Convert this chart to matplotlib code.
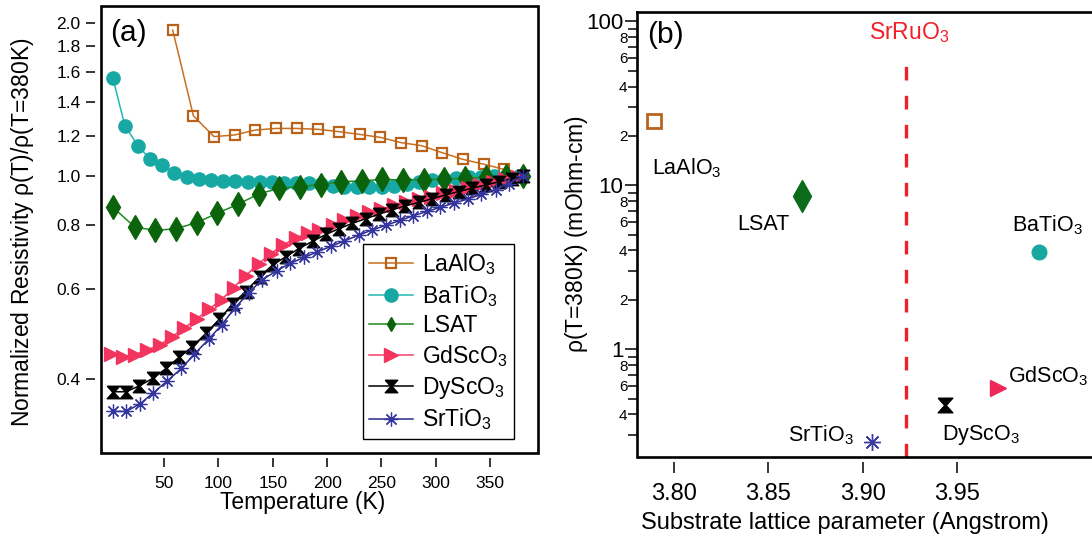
import numpy as np
import matplotlib.pyplot as plt
from matplotlib.patches import Rectangle
from matplotlib.ticker import FixedLocator, FixedFormatter, NullLocator

plt.rcParams['font.family'] = ['Liberation Sans', 'DejaVu Sans']
plt.rcParams['mathtext.default'] = 'regular'

# (a) normalized resistivity rho(T)/rho(380K) for films on each substrate
t_lao = [58, 77, 96, 115, 134, 153, 172, 192, 211, 230, 249, 268, 287, 306, 325, 344, 363, 380]
r_lao = [1.934, 1.313, 1.195, 1.204, 1.231, 1.240, 1.240, 1.235, 1.222, 1.207, 1.191,
         1.163, 1.147, 1.111, 1.078, 1.055, 1.030, 1.0]

t_bto = [3, 14, 26, 37, 48, 59, 71, 82, 93, 104, 115, 127, 138, 149, 160, 171, 183,
         194, 205, 216, 228, 239, 251, 262, 274, 285, 297, 308, 319, 331, 342, 354, 365, 377]
r_bto = [1.555, 1.255, 1.147, 1.080, 1.050, 1.014, 0.996, 0.987, 0.982, 0.979, 0.978,
         0.975, 0.973, 0.972, 0.970, 0.970, 0.968, 0.963, 0.955, 0.951, 0.950, 0.950,
         0.952, 0.958, 0.963, 0.972, 0.982, 0.986, 0.992, 0.995, 0.997, 0.998, 0.999, 1.0]

t_lsat = [3, 23, 42, 61, 80, 99, 118, 137, 156, 175, 194, 213, 232, 251, 270, 289, 308,
          327, 346, 365, 380]
r_lsat = [0.868, 0.794, 0.782, 0.788, 0.810, 0.845, 0.880, 0.922, 0.946, 0.953, 0.962,
          0.975, 0.978, 0.985, 0.982, 0.984, 0.985, 0.990, 0.995, 0.998, 1.0]

t_gso = [1, 12, 23, 34, 46, 57, 68, 80, 91, 103, 114, 125, 137, 148, 159, 171, 182,
         193, 205, 216, 228, 239, 250, 262, 273, 285, 296, 307, 319, 330, 341, 353, 364, 376]
r_gso = [0.448, 0.442, 0.446, 0.455, 0.466, 0.483, 0.502, 0.524, 0.547, 0.572, 0.604,
         0.637, 0.673, 0.703, 0.731, 0.755, 0.772, 0.785, 0.800, 0.818, 0.834, 0.848,
         0.862, 0.876, 0.888, 0.900, 0.911, 0.924, 0.936, 0.948, 0.960, 0.972, 0.985, 0.997]

t_dso = [3, 15, 27, 40, 52, 64, 76, 89, 101, 113, 125, 138, 150, 162, 174, 187, 199,
         211, 223, 236, 248, 260, 272, 285, 297, 309, 321, 333, 346, 358, 370, 380]
r_dso = [0.377, 0.377, 0.387, 0.401, 0.419, 0.441, 0.462, 0.492, 0.523, 0.561, 0.593,
         0.634, 0.669, 0.694, 0.720, 0.745, 0.768, 0.788, 0.807, 0.825, 0.842, 0.858,
         0.874, 0.888, 0.903, 0.918, 0.932, 0.946, 0.960, 0.974, 0.988, 1.0]

t_sto = [3, 15, 28, 40, 53, 66, 78, 91, 103, 115, 128, 140, 154, 166, 179, 191, 204,
         216, 229, 241, 254, 267, 279, 292, 304, 317, 330, 342, 355, 367, 380]
r_sto = [0.345, 0.345, 0.357, 0.375, 0.396, 0.419, 0.447, 0.478, 0.510, 0.550, 0.590,
         0.625, 0.652, 0.674, 0.692, 0.710, 0.728, 0.746, 0.765, 0.783, 0.800, 0.818,
         0.835, 0.852, 0.868, 0.885, 0.902, 0.920, 0.940, 0.965, 1.0]

# (b) rho(380K) against the substrate lattice parameter
substrates = ['LaAlO$_3$', 'LSAT', 'BaTiO$_3$', 'GdScO$_3$', 'DyScO$_3$', 'SrTiO$_3$']
lattice = [3.789, 3.868, 3.994, 3.972, 3.944, 3.905]
rho380 = [24.5, 8.6, 3.9, 0.58, 0.457, 0.273]
sro_lattice = 3.923

# hourglass marker used for DyScO3
hourglass = [(-1, 1), (1, 1), (0.1, 0), (1, -1), (-1, -1), (-0.1, 0), (-1, 1)]

W, H = 1092, 539
fig = plt.figure(figsize=(W / 100, H / 100), dpi=100)


def px_axes(x0, y0, x1, y1):
    return fig.add_axes([x0 / W, 1 - y1 / H, (x1 - x0) / W, (y1 - y0) / H])


# ------------------------------------------------------------------ panel (a)
ax1 = px_axes(101, 6, 537.7, 452.7)
ax1.set_yscale('log')

styles = [
    (t_lao, r_lao, 'LaAlO$_3$', dict(color='#C8701E', marker='s', ms=7, mfc='none',
                                      mec='#B9621A', mew=1.6, lw=1.1)),
    (t_bto, r_bto, 'BaTiO$_3$', dict(color='#22B8B4', marker='o', ms=9.5,
                                      mfc='#17A8A3', mec='#17A8A3', lw=1.1)),
    (t_lsat, r_lsat, 'LSAT', dict(color='#1F8A1F', marker='d', ms=12,
                                  mfc='#0B640B', mec='#0B640B', lw=1.1)),
    (t_gso, r_gso, 'GdScO$_3$', dict(color='#F2406A', marker='>', ms=9.5,
                                      mfc='#F2345E', mec='#F2345E', lw=1.1)),
    (t_dso, r_dso, 'DyScO$_3$', dict(color='black', marker=hourglass, ms=9,
                                      mfc='black', mec='black', lw=1.1)),
    (t_sto, r_sto, 'SrTiO$_3$', dict(color='#2A2A86', marker=(8, 2, 0), ms=10,
                                      mec='#3535A0', mew=0.9, lw=1.1)),
]
for t, r, name, kw in styles:
    ax1.plot(t, r, label=name, **kw)

ax1.set_xlim(-8, 393.8)
ax1.set_ylim(0.2862, 2.157)
ax1.xaxis.set_major_locator(FixedLocator([50, 100, 150, 200, 250, 300, 350]))
yt = [0.4, 0.6, 0.8, 1.0, 1.2, 1.4, 1.6, 1.8, 2.0]
ax1.yaxis.set_major_locator(FixedLocator(yt))
ax1.yaxis.set_major_formatter(FixedFormatter(['%.1f' % v for v in yt]))
ax1.yaxis.set_minor_locator(NullLocator())
ax1.tick_params(direction='out', length=6.8, width=1.1, labelsize=12.5)
ax1.tick_params(axis='y', pad=4)
ax1.tick_params(axis='x', pad=6)
for side in ['left', 'bottom']:
    ax1.spines[side].set_position(('outward', 4))
for side in ax1.spines:
    ax1.spines[side].set_visible(False)
ax1.add_patch(Rectangle((0, 0), 1, 1, transform=ax1.transAxes, fill=False,
                        lw=1.9, ec='black', clip_on=False, zorder=6))
ax1.text(0.02, 0.939, '(a)', transform=ax1.transAxes, fontsize=21.5,
         ha='left', va='center')

leg = ax1.legend(loc='lower left', bbox_to_anchor=(0.599, 0.030), fontsize=16.5,
                 frameon=True, fancybox=False, edgecolor='black', framealpha=1,
                 handlelength=1.9, handletextpad=0.4, labelspacing=0.25,
                 borderpad=0.3, borderaxespad=0)
leg.get_frame().set_linewidth(1.0)
# the LSAT legend symbol is drawn smaller than on the curve
leg.legend_handles[2].set_markersize(7)

fig.text(22.5 / W, 1 - 232 / H, r'Normalized Resistivity $\rho$(T)/$\rho$(T=380K)',
         rotation=90, ha='center', va='center', fontsize=16.5)
fig.text(302.5 / W, 1 - 503 / H, 'Temperature (K)', ha='center', va='center',
         fontsize=16.5)

# ------------------------------------------------------------------ panel (b)
ax2 = px_axes(637.3, 11.7, 1092, 456.7)
ax2.set_yscale('log')

point_styles = [
    dict(marker='s', ms=10, mfc='none', mec='#B8651E', mew=2.0),
    dict(marker='d', ms=16, mfc='#0B6B1B', mec='#0B6B1B'),
    dict(marker='o', ms=10.5, mfc='#17A8A0', mec='#17A8A0'),
    dict(marker='>', ms=11.5, mfc='#F0285A', mec='#F0285A'),
    dict(marker=hourglass, ms=10.5, mfc='black', mec='black'),
    dict(marker=(8, 2, 0), ms=12, mec='#3A3AA0', mew=1.0),
]
for x, y, kw in zip(lattice, rho380, point_styles):
    ax2.plot([x], [y], ls='none', **kw)

label_pos = [(3.788, 12.75), (3.8332, 5.73), (3.9793, 5.73),
             (3.9773, 0.68), (3.942, 0.300), (3.8606, 0.300)]
for name, (lx, ly) in zip(substrates, label_pos):
    ax2.text(lx, ly, name, fontsize=15.5, ha='left', va='center')

ax2.plot([sro_lattice, sro_lattice], [0.221, 59.7], color='#F0202A', lw=2.4,
         dashes=(4.1, 4.6))
ax2.text(3.9248, 84.9, 'SrRuO$_3$', color='#F0202A', fontsize=16.5,
         ha='center', va='center')
ax2.text(0.0207, 0.9476, '(b)', transform=ax2.transAxes, fontsize=21.5,
         ha='left', va='center')

ax2.set_xlim(3.7803, 4.0219)
ax2.set_ylim(0.221, 114.4)
ax2.xaxis.set_major_locator(FixedLocator([3.80, 3.85, 3.90, 3.95]))
ax2.xaxis.set_major_formatter(FixedFormatter(['3.80', '3.85', '3.90', '3.95']))
ax2.yaxis.set_major_locator(FixedLocator([1, 10, 100]))
ax2.yaxis.set_major_formatter(FixedFormatter(['1', '10', '100']))
minor_vals, minor_labs = [], []
for dec in [0.1, 1, 10]:
    for m in range(2, 10):
        minor_vals.append(m * dec)
        minor_labs.append(str(m) if m % 2 == 0 else '')
ax2.yaxis.set_minor_locator(FixedLocator(minor_vals))
ax2.yaxis.set_minor_formatter(FixedFormatter(minor_labs))
ax2.tick_params(axis='x', direction='out', length=7.7, width=1.1, labelsize=17, pad=7)
ax2.tick_params(axis='y', which='major', direction='out', length=9, width=1.1,
                labelsize=16, pad=1)
ax2.tick_params(axis='y', which='minor', direction='out', length=6.5, width=1.1,
                labelsize=11, pad=0.5)
ax2.spines['right'].set_visible(False)
ax2.spines['bottom'].set_position(('outward', 4))
ax2.spines['bottom'].set_visible(False)
for side in ['left', 'top']:
    ax2.spines[side].set_linewidth(1.9)
ax2.plot([0, 1], [0, 0], transform=ax2.transAxes, color='black', lw=1.9,
         clip_on=False, solid_capstyle='butt')

fig.text(576 / W, 1 - 234 / H, r'$\rho$(T=380K) (mOhm-cm)', rotation=90,
         ha='center', va='center', fontsize=16.5)
fig.text(845 / W, 1 - 523 / H, 'Substrate lattice parameter (Angstrom)',
         ha='center', va='center', fontsize=17)

fig.savefig('out.png', dpi=100)
